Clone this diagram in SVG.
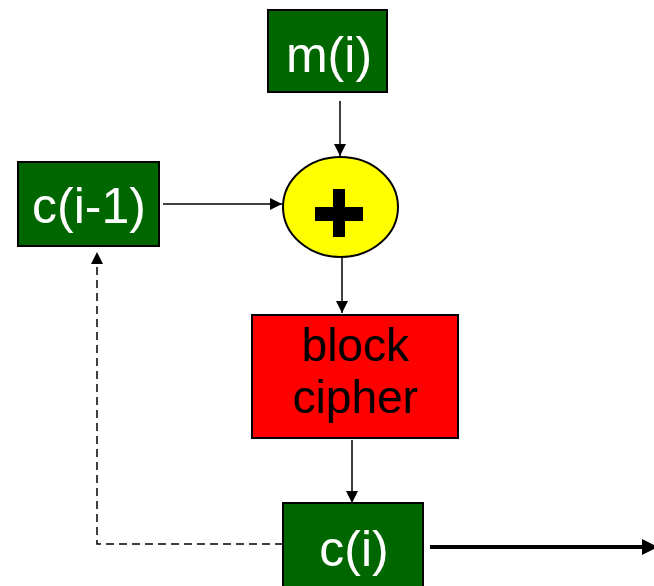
<svg xmlns="http://www.w3.org/2000/svg" width="654" height="586" viewBox="0 0 654 586">
<defs>
<style>
.g{fill:#006600;stroke:#000;stroke-width:2}
.t{font-family:"Liberation Sans",Arial,sans-serif;font-size:50px;text-anchor:middle}
.w{fill:#fff}
.c{stroke:#000;stroke-width:1.5;fill:none}
</style>
<marker id="ah" viewBox="0 0 10 10" refX="10" refY="5" markerWidth="12" markerHeight="12" markerUnits="userSpaceOnUse" orient="auto">
<path d="M0,0 L10,5 L0,10 z" fill="#000"/>
</marker>
<marker id="ahb" viewBox="0 0 10 10" refX="10" refY="5" markerWidth="4" markerHeight="4" orient="auto">
<path d="M0,0 L10,5 L0,10 z" fill="#000"/>
</marker>
</defs>
<g id="connectors">
<line class="c" x1="340" y1="101" x2="340" y2="156" marker-end="url(#ah)"/>
<line class="c" x1="163" y1="204" x2="282" y2="204" marker-end="url(#ah)"/>
<line class="c" x1="342" y1="258" x2="342" y2="313" marker-end="url(#ah)"/>
<line class="c" x1="352" y1="440" x2="352" y2="503" marker-end="url(#ah)"/>
<polyline class="c" points="283,544 97,544 97,252" stroke-dasharray="8,5" marker-end="url(#ah)"/>
<line x1="430" y1="547" x2="658" y2="547" stroke="#000" stroke-width="4" marker-end="url(#ahb)"/>
</g>
<g id="m_i">
<rect class="g" x="268" y="10" width="119" height="82"/>
<text class="t w" x="329" y="72">m(i)</text>
</g>
<g id="c_i_minus_1">
<rect class="g" x="18" y="162" width="141" height="84"/>
<text class="t w" x="89" y="223">c(i-1)</text>
</g>
<g id="xor">
<ellipse cx="340.5" cy="207" rx="57.5" ry="50" fill="#ffff00" stroke="#000" stroke-width="2"/>
<rect x="315" y="207" width="48" height="14" fill="#000"/>
<rect x="333" y="189" width="12" height="48" fill="#000"/>
</g>
<g id="block_cipher">
<rect x="252" y="315" width="206" height="123" fill="#ff0000" stroke="#000" stroke-width="2"/>
<text class="t" style="font-size:46px" fill="#000"><tspan x="355" y="361">block</tspan><tspan x="355" y="413">cipher</tspan></text>
</g>
<g id="c_i">
<rect class="g" x="283" y="503" width="140" height="90"/>
<text class="t w" x="354" y="566">c(i)</text>
</g>
</svg>
